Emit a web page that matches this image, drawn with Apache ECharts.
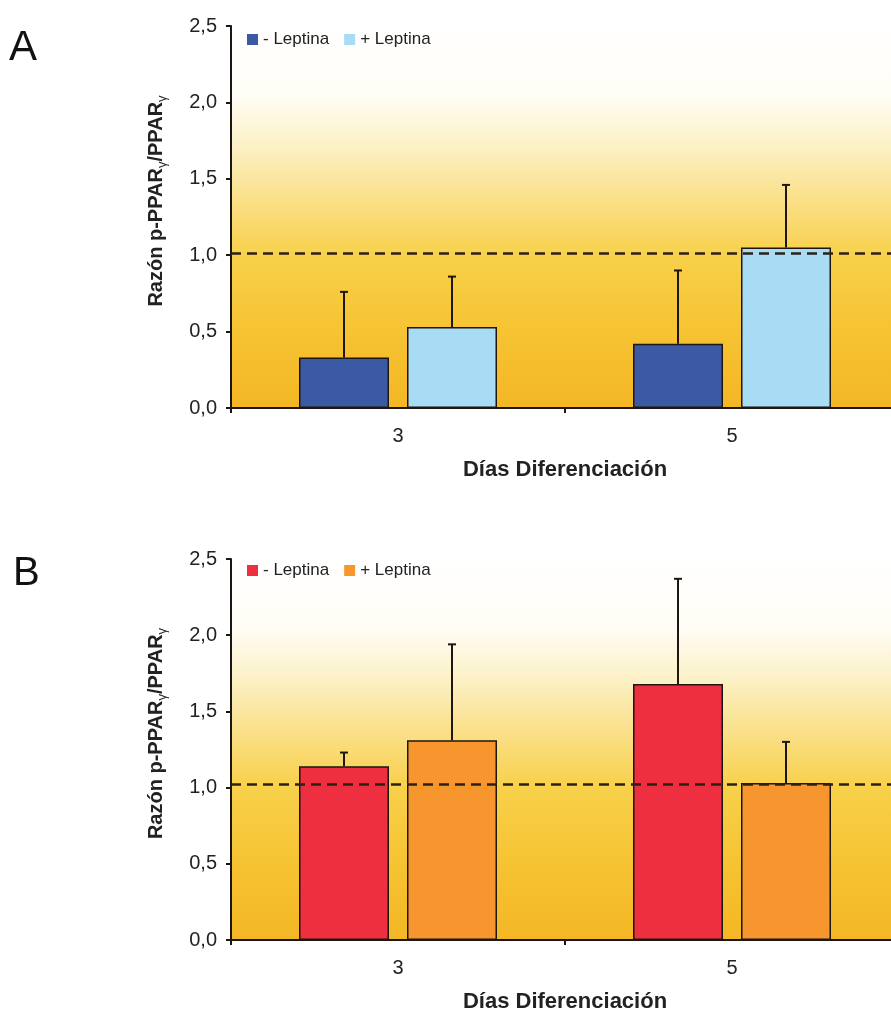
<!DOCTYPE html>
<html><head><meta charset="utf-8">
<script src="https://cdn.jsdelivr.net/npm/echarts@6/dist/echarts.min.js"></script>
<style>html,body{margin:0;padding:0;background:#fff}#c{width:891px;height:1011px}</style>
</head><body><div id="c"></div>
<script>
// ---- data ----
const categories = ['3', '5'];
const seriesNames = ['- Leptina', '+ Leptina'];
const panelLetters = ['A', 'B'];
// Panel A
const aMinus = [0.33, 0.42];
const aMinusErr = [0.43, 0.48];
const aPlus = [0.53, 1.05];
const aPlusErr = [0.33, 0.41];
const aRef = 1.01;
// Panel B
const bMinus = [1.14, 1.68];
const bMinusErr = [0.09, 0.69];
const bPlus = [1.31, 1.03];
const bPlusErr = [0.63, 0.27];
const bRef = 1.02;

const FONT = 'Liberation Sans';
const BAR_W = 90;
const BAR_GAP = '20%';
const INK = '#1e1610';

const chart = echarts.init(document.getElementById('c'), null, {renderer: 'canvas'});

function bgGradient() {
  return new echarts.graphic.LinearGradient(0, 0, 0, 1, [
    {offset: 0.0, color: '#ffffff'},
    {offset: 0.18, color: '#fffdf6'},
    {offset: 0.32, color: '#fcf0c4'},
    {offset: 0.45, color: '#fae08a'},
    {offset: 0.6, color: '#f8d04a'},
    {offset: 0.8, color: '#f6c332'},
    {offset: 1.0, color: '#f4b624'}
  ]);
}

function errRender(slot) {
  return function (params, api) {
    const cat = api.value(0), v = api.value(1), e = api.value(2);
    const layout = api.barLayout({count: 2, barWidth: BAR_W, barGap: BAR_GAP});
    const base = api.coord([cat, v]);
    const top = api.coord([cat, v + e]);
    const x = base[0] + layout[slot].offsetCenter;
    const st = {stroke: INK, lineWidth: 2};
    return {type: 'group', children: [
      {type: 'line', shape: {x1: x, y1: base[1], x2: x, y2: top[1]}, style: st},
      {type: 'line', shape: {x1: x - 4, y1: top[1], x2: x + 4, y2: top[1]}, style: st}
    ]};
  };
}

const grids = [], xAxes = [], yAxes = [], series = [], legends = [];
const panels = [
  {minus: aMinus, minusErr: aMinusErr, plus: aPlus, plusErr: aPlusErr, ref: aRef,
   colors: ['#3c5aa4', '#a8dcf4'], top: 26, height: 382, legendTop: 26},
  {minus: bMinus, minusErr: bMinusErr, plus: bPlus, plusErr: bPlusErr, ref: bRef,
   colors: ['#ee2f3f', '#f7952f'], top: 559, height: 381, legendTop: 557}
];

panels.forEach((p, i) => {
  grids.push({left: 231, width: 668, top: p.top, height: p.height, show: true,
    outerBoundsMode: 'none', containLabel: false,
    backgroundColor: bgGradient(), borderWidth: 0});
  xAxes.push({type: 'category', gridIndex: i, data: categories,
    axisLine: {lineStyle: {color: INK, width: 2}},
    axisTick: {show: true, length: 5, lineStyle: {color: INK, width: 2}},
    axisLabel: {fontFamily: FONT, fontSize: 20, color: '#222', margin: 18},
    name: 'Días Diferenciación', nameLocation: 'middle', nameGap: 51,
    nameTextStyle: {fontFamily: FONT, fontSize: 22, fontWeight: 'bold', color: '#222'}
  });
  yAxes.push({type: 'value', gridIndex: i, min: 0, max: 2.5, interval: 0.5,
    axisLine: {show: true, lineStyle: {color: INK, width: 2}},
    axisTick: {show: true, length: 5, lineStyle: {color: INK, width: 2}},
    splitLine: {show: false},
    axisLabel: {fontFamily: FONT, fontSize: 20, color: '#222', margin: 14,
      formatter: v => v.toFixed(1).replace('.', ',')},
    name: '{b|Razón p-PPAR}{s|γ}{b|/PPAR}{s|γ}', nameLocation: 'middle', nameGap: 62,
    nameTextStyle: {fontFamily: FONT, fontSize: 20, fontWeight: 'bold', color: '#222',
      padding: [0, 0, 0, 32],
      rich: {
        b: {fontFamily: FONT, fontSize: 20, fontWeight: 'bold', color: '#222', lineHeight: 26, verticalAlign: 'middle'},
        s: {fontFamily: FONT, fontSize: 13, fontWeight: 'normal', color: '#222', lineHeight: 14, verticalAlign: 'bottom'}
      }}
  });
  series.push({type: 'bar', name: seriesNames[0], xAxisIndex: i, yAxisIndex: i,
    data: p.minus, barWidth: BAR_W, barGap: BAR_GAP,
    itemStyle: {color: p.colors[0], borderColor: INK, borderWidth: 1.5},
    markLine: {silent: true, symbol: 'none', label: {show: false},
      lineStyle: {type: [10, 6], color: '#2a2018', width: 2.5},
      data: [{yAxis: p.ref}]}
  });
  series.push({type: 'bar', name: seriesNames[1], xAxisIndex: i, yAxisIndex: i,
    data: p.plus, barWidth: BAR_W, barGap: BAR_GAP,
    itemStyle: {color: p.colors[1], borderColor: INK, borderWidth: 1.5}
  });
  series.push({type: 'custom', xAxisIndex: i, yAxisIndex: i, z: 6, silent: true,
    renderItem: errRender(0),
    data: p.minus.map((v, k) => [k, v, p.minusErr[k]])});
  series.push({type: 'custom', xAxisIndex: i, yAxisIndex: i, z: 6, silent: true,
    renderItem: errRender(1),
    data: p.plus.map((v, k) => [k, v, p.plusErr[k]])});
  legends.push({left: 242, top: p.legendTop, itemWidth: 11, itemHeight: 11, itemGap: 15, icon: 'rect',
    data: [{name: seriesNames[0], itemStyle: {color: p.colors[0], borderWidth: 0}},
           {name: seriesNames[1], itemStyle: {color: p.colors[1], borderWidth: 0}}],
    textStyle: {fontFamily: FONT, fontSize: 17, color: '#222'}, selectedMode: false});
});

chart.setOption({
  animation: false,
  backgroundColor: '#ffffff',
  grid: grids, xAxis: xAxes, yAxis: yAxes, series: series, legend: legends,
  graphic: [
    {type: 'text', left: 9, top: 27, style: {text: panelLetters[0], font: '42px "Liberation Sans"', fill: '#111'}},
    {type: 'text', left: 13, top: 554, style: {text: panelLetters[1], font: '40px "Liberation Sans"', fill: '#111'}}
  ]
});
</script></body></html>
